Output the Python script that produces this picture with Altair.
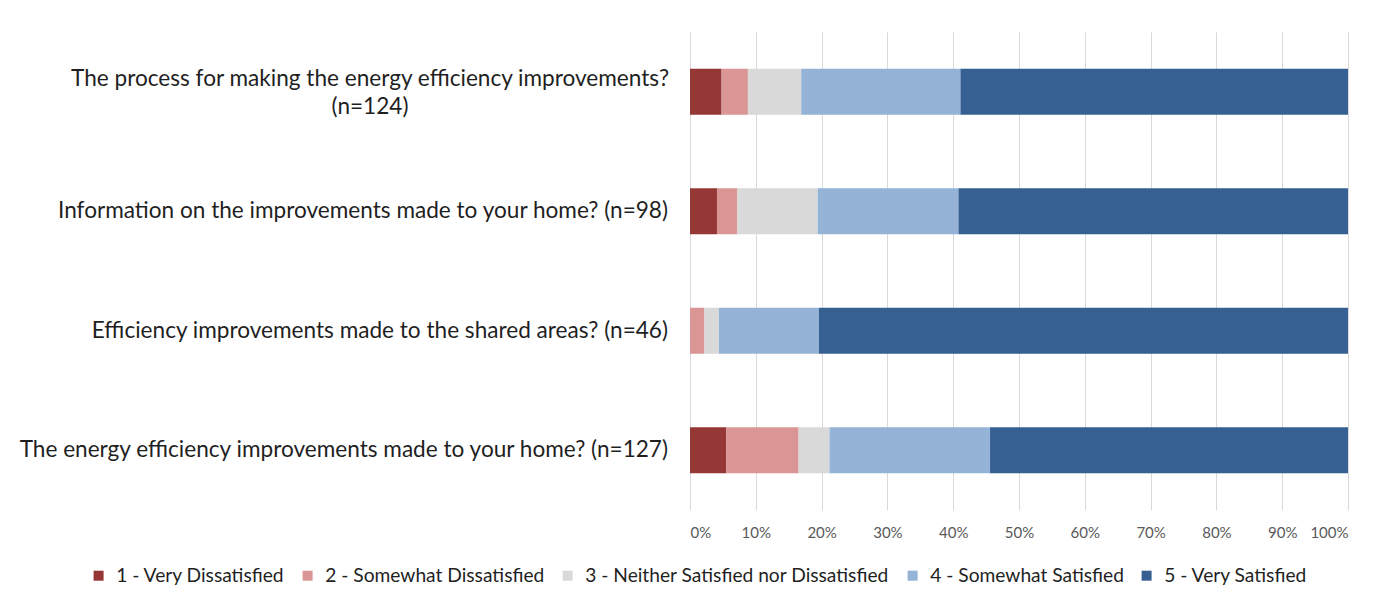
import altair as alt
import pandas as pd

# Survey questions (top to bottom) and response shares in percent
questions = [
    "The process for making the energy efficiency improvements?",
    "Information on the improvements made to your home? (n=98)",
    "Efficiency improvements made to the shared areas? (n=46)",
    "The energy efficiency improvements made to your home? (n=127)",
]
q1_second_line = "(n=124)"

levels = [
    "1 - Very Dissatisfied",
    "2 - Somewhat Dissatisfied",
    "3 - Neither Satisfied nor Dissatisfied",
    "4 - Somewhat Satisfied",
    "5 - Very Satisfied",
]
level_colors = ["#953735", "#D99694", "#D9D9D9", "#95B3D7", "#376092"]

very_dissatisfied = [4.8, 4.1, 0.0, 5.5]
somewhat_dissatisfied = [4.0, 3.1, 2.2, 11.0]
neither = [8.1, 12.2, 2.2, 4.7]
somewhat_satisfied = [24.2, 21.4, 15.2, 24.4]
very_satisfied = [58.9, 59.2, 80.4, 54.4]

x_ticks = [0, 10, 20, 30, 40, 50, 60, 70, 80, 90, 100]

series = [very_dissatisfied, somewhat_dissatisfied, neither,
          somewhat_satisfied, very_satisfied]
rows = []
for li, (lvl, vals) in enumerate(zip(levels, series)):
    for q, v in zip(questions, vals):
        rows.append({"question": q, "level": lvl, "order": li, "pct": v})
df = pd.DataFrame(rows)

label_df = pd.DataFrame({"question": questions})

FONT = "Lato"
TEXT = "#1f1f1f"
LABEL_SIZE = 22.6

y_enc = alt.Y(
    "question:N",
    sort=questions,
    axis=None,
    scale=alt.Scale(paddingInner=0.615, paddingOuter=0.3075),
)

bars = alt.Chart(df).mark_bar().encode(
    x=alt.X(
        "pct:Q",
        stack="zero",
        scale=alt.Scale(domain=[0, 100], nice=False),
        axis=alt.Axis(
            values=x_ticks,
            labelExpr="datum.value + '%'",
            title=None,
            domain=False,
            ticks=False,
            grid=True,
            gridColor="#D9D9D9",
            gridWidth=1,
            labelFont=FONT,
            labelFontSize=15,
            labelColor="#595959",
            labelPadding=15,
        ),
    ),
    y=y_enc,
    color=alt.Color(
        "level:N",
        sort=levels,
        scale=alt.Scale(domain=levels, range=level_colors),
        legend=alt.Legend(
            title=None,
            orient="none",
            direction="horizontal",
            legendX=-601,
            legendY=534,
            symbolType="square",
            symbolSize=100,
            symbolStrokeWidth=0,
            labelFont=FONT,
            labelFontSize=19.2,
            labelColor=TEXT,
            labelOffset=8,
            columnPadding=13,
            labelLimit=500,
        ),
    ),
    order=alt.Order("order:Q"),
)

# Right-aligned question labels
right_labels = alt.Chart(label_df).transform_filter(
    alt.datum.question != questions[0]
).mark_text(
    align="right", baseline="middle", font=FONT, fontSize=LABEL_SIZE, color=TEXT
).encode(
    y=alt.Y("question:N", sort=questions, axis=None),
    x=alt.value(-22),
    text="question:N",
)

# The first question wraps onto two centered lines
first_label = alt.Chart(label_df).transform_filter(
    alt.datum.question == questions[0]
).transform_calculate(
    lines="[datum.question, '" + q1_second_line + "']"
).mark_text(
    align="center", baseline="middle", font=FONT, fontSize=LABEL_SIZE, color=TEXT,
    lineHeight=28, dy=-13,
).encode(
    y=alt.Y("question:N", sort=questions, axis=None),
    x=alt.value(-320),
    text="lines:N",
)

chart = alt.layer(bars, right_labels, first_label).properties(
    width=658,
    height=478,
    autosize=alt.AutoSizeParams(type="none"),
    padding={"left": 690, "top": 32, "right": 32, "bottom": 82},
    background="white",
).configure_view(stroke=None)

chart.save("out.html", embed_options={"renderer": "svg", "actions": False})
